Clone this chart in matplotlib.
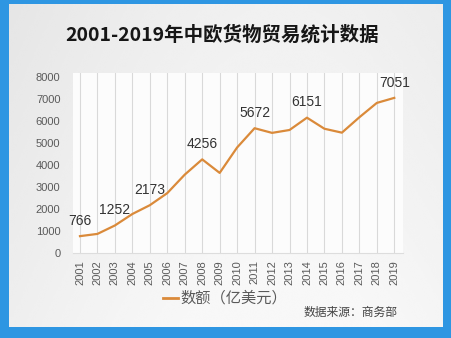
import numpy as np
import matplotlib.pyplot as plt
from matplotlib.lines import Line2D

plt.rcParams['font.family'] = ['Liberation Sans', 'Noto Sans CJK SC', 'DejaVu Sans']

# 中欧货物贸易额（亿美元）
years = list(range(2001, 2020))
values = [766, 868, 1252, 1773, 2173, 2723, 3562, 4256, 3641, 4797,
          5672, 5460, 5591, 6151, 5648, 5470, 6169, 6822, 7051]
labeled_years = [2001, 2003, 2005, 2008, 2011, 2014, 2019]
title = '2001-2019年中欧货物贸易统计数据'
legend_label = '数额（亿美元）'
source = '数据来源：商务部'

W, H = 451, 338
fig = plt.figure(figsize=(W / 100, H / 100), dpi=100)
fig.patch.set_facecolor('#2e96e2')

# card background with a soft gradient
bg = fig.add_axes([9 / W, 1 - 327 / H, (443 - 9) / W, (327 - 4) / H])
gx, gy = np.meshgrid(np.linspace(0, 1, 200), np.linspace(0, 1, 150))
grad = 0.90 + 0.07 * np.clip(np.sin(gx * 2.5) * 0.6 + gy * 0.5, 0, 1)
bg.imshow(grad, cmap='gray', vmin=0, vmax=1, aspect='auto',
          extent=[0, 1, 0, 1], interpolation='bicubic')
bg.set_xlim(0, 1)
bg.set_ylim(0, 1)
bg.axis('off')

# plot area
x0, x1 = 73, 403
y_top, y_bot = 72.6, 253
ax = fig.add_axes([x0 / W, 1 - y_bot / H, (x1 - x0) / W, (y_bot - y_top) / H])
ax.set_facecolor('#fcfcfc')
ax.set_xlim(2000.6, 2019.5)
ax.set_ylim(0, 8200)

ax.set_xticks(years)
ax.set_xticklabels([str(y) for y in years], rotation=90, fontsize=8, color='#5a5a5a')
ax.set_yticks(range(0, 8001, 1000))
ax.set_yticklabels([str(v) for v in range(0, 8001, 1000)], fontsize=8, color='#5a5a5a')
ax.tick_params(length=0, pad=9)
ax.tick_params(axis='x', pad=5)
ax.grid(axis='x', color='#d9d9d9', linewidth=0.8)
ax.set_axisbelow(True)
for side in ['top', 'right', 'left']:
    ax.spines[side].set_visible(False)
ax.spines['bottom'].set_color('#dddddd')
ax.spines['bottom'].set_linewidth(0.8)

ax.plot(years, values, color='#da8a3a', linewidth=1.6)

for y, v in zip(years, values):
    if y in labeled_years:
        ax.annotate(str(v), (y, v), xytext=(0, 6), textcoords='offset points',
                    ha='center', va='bottom', fontsize=10, color='#333333')

fig.text(222 / W, 1 - 35 / H, title, ha='center', va='center',
         fontsize=14, fontweight='bold', color='#161616',
         family=['Noto Sans CJK SC', 'DejaVu Sans'])

# legend entry and source note
fig.add_artist(Line2D([163 / W, 178 / W], [1 - 298 / H, 1 - 298 / H],
                      color='#da8a3a', linewidth=2))
fig.text(180 / W, 1 - 298 / H, legend_label, ha='left', va='center',
         fontsize=11, color='#5a5a5a', family=['Noto Sans CJK SC'])
fig.text(398 / W, 1 - 312 / H, source, ha='right', va='center',
         fontsize=8.5, color='#444444', family=['Noto Sans CJK SC'])

fig.savefig('out.png', dpi=100, facecolor=fig.get_facecolor())
